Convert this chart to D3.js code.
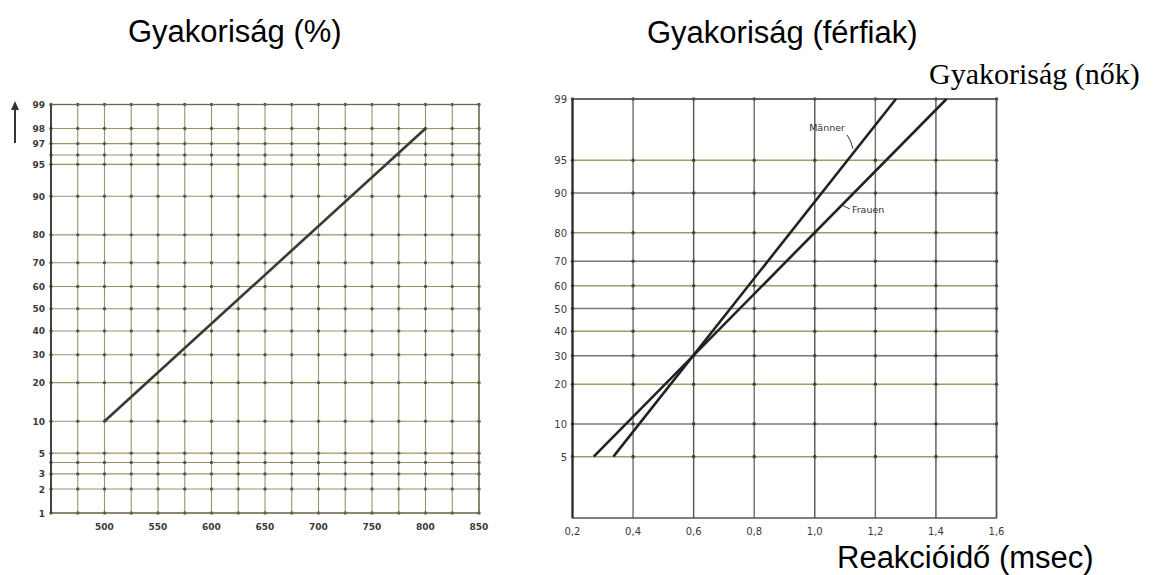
<!DOCTYPE html>
<html>
<head>
<meta charset="utf-8">
<script src="https://cdn.jsdelivr.net/npm/d3@7/dist/d3.min.js"></script>
<style>
  body { margin: 0; background: #fff; }
  .tick-label { font-family: "DejaVu Sans", sans-serif; font-weight: bold; fill: #3a3a3a; }
</style>
</head>
<body>
<div id="chart"></div>
<script>
// left chart data
var leftGridX = [450, 475, 500, 525, 550, 575, 600, 625, 650, 675, 700, 725, 750, 775, 800, 825, 850];
var leftTicksX = [500, 550, 600, 650, 700, 750, 800, 850];
var leftGridP = [1, 2, 3, 4, 5, 10, 20, 30, 40, 50, 60, 70, 80, 90, 95, 96, 97, 98, 99];
var leftTicksP = [1, 2, 3, 5, 10, 20, 30, 40, 50, 60, 70, 80, 90, 95, 97, 98, 99];
var lineX = [500, 800];
var lineP = [10, 98];

// right chart data
var rightGridX = [0.2, 0.4, 0.6, 0.8, 1.0, 1.2, 1.4, 1.6];
var rightTickLabels = ["0,2", "0,4", "0,6", "0,8", "1,0", "1,2", "1,4", "1,6"];
var rightGridP = [5, 10, 20, 30, 40, 50, 60, 70, 80, 90, 95, 99];
var maennerX = [0.335, 1.268];
var maennerP = [5, 99];
var frauenX = [0.27, 1.435];
var frauenP = [5, 99];

// inverse normal cdf (Acklam)
function probit(p) {
  var a = [-3.969683028665376e+01, 2.209460984245205e+02, -2.759285104469687e+02, 1.383577518672690e+02, -3.066479806614716e+01, 2.506628277459239e+00];
  var b = [-5.447609879822406e+01, 1.615858368580409e+02, -1.556989798598866e+02, 6.680131188771972e+01, -1.328068155288572e+01];
  var c = [-7.784894002430293e-03, -3.223964580411365e-01, -2.400758277161838e+00, -2.549732539343734e+00, 4.374664141464968e+00, 2.938163982698783e+00];
  var d = [7.784695709041462e-03, 3.224671290700398e-01, 2.445134137142996e+00, 3.754408661907416e+00];
  var q, r;
  if (p < 0.02425) {
    q = Math.sqrt(-2 * Math.log(p));
    return (((((c[0]*q+c[1])*q+c[2])*q+c[3])*q+c[4])*q+c[5]) / ((((d[0]*q+d[1])*q+d[2])*q+d[3])*q+1);
  }
  if (p > 1 - 0.02425) {
    q = Math.sqrt(-2 * Math.log(1 - p));
    return -(((((c[0]*q+c[1])*q+c[2])*q+c[3])*q+c[4])*q+c[5]) / ((((d[0]*q+d[1])*q+d[2])*q+d[3])*q+1);
  }
  q = p - 0.5;
  r = q * q;
  return (((((a[0]*r+a[1])*r+a[2])*r+a[3])*r+a[4])*r+a[5])*q / (((((b[0]*r+b[1])*r+b[2])*r+b[3])*r+b[4])*r+1);
}

// x value on a straight probit line at percentage p
function xAt(xs, ps, p) {
  var t = (probit(p / 100) - probit(ps[0] / 100)) / (probit(ps[1] / 100) - probit(ps[0] / 100));
  return xs[0] + t * (xs[1] - xs[0]);
}

function init() {
  var w = 1158;
  var h = 575;

  var svg = d3.select("#chart")
    .append("svg")
    .attr("width", w)
    .attr("height", h);

  // titles
  svg.append("text")
    .attr("x", 128).attr("y", 42)
    .style("font-family", "'Liberation Sans', Arial, sans-serif")
    .style("font-size", "31px")
    .text("Gyakoriság (%)");

  svg.append("text")
    .attr("x", 647).attr("y", 43)
    .style("font-family", "'Liberation Sans', Arial, sans-serif")
    .style("font-size", "31px")
    .text("Gyakoriság (férfiak)");

  svg.append("text")
    .attr("x", 929).attr("y", 84)
    .style("font-family", "'Liberation Serif', 'Times New Roman', serif")
    .style("font-size", "30px")
    .text("Gyakoriság (nők)");

  svg.append("text")
    .attr("x", 837).attr("y", 568)
    .style("font-family", "'Liberation Sans', Arial, sans-serif")
    .style("font-size", "31px")
    .text("Reakcióidő (msec)");

  // ---------- left chart ----------
  var xL = d3.scaleLinear().domain([450, 850]).range([51, 479]);
  var zL = d3.scaleLinear().domain([probit(0.01), probit(0.99)]).range([513, 104.5]);
  var yL = function(p) { return zL(probit(p / 100)); };

  var left = svg.append("g");

  left.selectAll(".vgrid")
    .data(leftGridX)
    .enter()
    .append("line")
    .attr("x1", function(d) { return xL(d); })
    .attr("x2", function(d) { return xL(d); })
    .attr("y1", yL(99))
    .attr("y2", yL(1))
    .attr("stroke", "#9a9568")
    .attr("stroke-width", 1.1);

  left.selectAll(".hgrid")
    .data(leftGridP)
    .enter()
    .append("line")
    .attr("x1", xL(450))
    .attr("x2", xL(850))
    .attr("y1", function(d) { return yL(d); })
    .attr("y2", function(d) { return yL(d); })
    .attr("stroke", "#9a9568")
    .attr("stroke-width", 1.1);

  // intersection dots
  leftGridP.forEach(function(p) {
    left.selectAll(null)
      .data(leftGridX)
      .enter()
      .append("circle")
      .attr("cx", function(d) { return xL(d); })
      .attr("cy", yL(p))
      .attr("r", 1.7)
      .attr("fill", "#555");
  });

  // frame
  left.append("rect")
    .attr("x", xL(450))
    .attr("y", yL(99))
    .attr("width", xL(850) - xL(450))
    .attr("height", yL(1) - yL(99))
    .attr("fill", "none")
    .attr("stroke", "#6a6650")
    .attr("stroke-width", 1.3);
  left.append("line")
    .attr("x1", xL(450)).attr("x2", xL(450))
    .attr("y1", yL(99)).attr("y2", yL(1))
    .attr("stroke", "#333")
    .attr("stroke-width", 1.6);

  left.selectAll(".ylab")
    .data(leftTicksP)
    .enter()
    .append("text")
    .attr("class", "tick-label")
    .attr("x", 45)
    .attr("y", function(d) { return yL(d) + 3.5; })
    .attr("text-anchor", "end")
    .style("font-size", "9px")
    .text(function(d) { return d; });

  left.selectAll(".xlab")
    .data(leftTicksX)
    .enter()
    .append("text")
    .attr("class", "tick-label")
    .attr("x", function(d) { return xL(d); })
    .attr("y", 530)
    .attr("text-anchor", "middle")
    .style("font-size", "9px")
    .text(function(d) { return d; });

  // arrow
  left.append("line")
    .attr("x1", 15).attr("x2", 15)
    .attr("y1", 143).attr("y2", 108)
    .attr("stroke", "#333")
    .attr("stroke-width", 2);
  left.append("path")
    .attr("d", "M15,101 L11,110 L19,110 Z")
    .attr("fill", "#333");

  var leftLine = d3.line()
    .x(function(d) { return xL(d[0]); })
    .y(function(d) { return yL(d[1]); });

  left.append("path")
    .datum(d3.zip(lineX, lineP))
    .attr("d", leftLine)
    .attr("fill", "none")
    .attr("stroke", "#3a3a30")
    .attr("stroke-width", 2.6);

  // ---------- right chart ----------
  var xR = d3.scaleLinear().domain([0.2, 1.6]).range([572.5, 996.5]);
  var zR = d3.scaleLinear().domain([probit(0.01), probit(0.99)]).range([518, 99]);
  var yR = function(p) { return zR(probit(p / 100)); };

  var right = svg.append("g");

  right.selectAll(".hgrid")
    .data(rightGridP)
    .enter()
    .append("line")
    .attr("x1", xR(0.2))
    .attr("x2", xR(1.6))
    .attr("y1", function(d) { return yR(d); })
    .attr("y2", function(d) { return yR(d); })
    .attr("stroke", function(d, i) { return i % 2 ? "#7a7a72" : "#a69a6a"; })
    .attr("stroke-width", 1.5);

  right.selectAll(".vgrid")
    .data(rightGridX)
    .enter()
    .append("line")
    .attr("x1", function(d) { return xR(d); })
    .attr("x2", function(d) { return xR(d); })
    .attr("y1", yR(99))
    .attr("y2", yR(1))
    .attr("stroke", function(d, i) { return i % 2 ? "#6f6f66" : "#55554f"; })
    .attr("stroke-width", 1.4);

  rightGridP.forEach(function(p) {
    right.selectAll(null)
      .data(rightGridX)
      .enter()
      .append("circle")
      .attr("cx", function(d) { return xR(d); })
      .attr("cy", yR(p))
      .attr("r", 1.8)
      .attr("fill", "#444");
  });

  right.append("rect")
    .attr("x", xR(0.2))
    .attr("y", yR(99))
    .attr("width", xR(1.6) - xR(0.2))
    .attr("height", yR(1) - yR(99))
    .attr("fill", "none")
    .attr("stroke", "#55554f")
    .attr("stroke-width", 1.5);
  right.append("line")
    .attr("x1", xR(0.2)).attr("x2", xR(0.2))
    .attr("y1", yR(99)).attr("y2", yR(1))
    .attr("stroke", "#2a2a2a")
    .attr("stroke-width", 2);

  right.selectAll(".ylab")
    .data(rightGridP)
    .enter()
    .append("text")
    .attr("class", "tick-label")
    .attr("x", 567)
    .attr("y", function(d) { return yR(d) + 4; })
    .attr("text-anchor", "end")
    .style("font-size", "10px")
    .style("font-weight", "normal")
    .text(function(d) { return d; });

  right.selectAll(".xlab")
    .data(rightGridX)
    .enter()
    .append("text")
    .attr("class", "tick-label")
    .attr("x", function(d) { return xR(d); })
    .attr("y", 535)
    .attr("text-anchor", "middle")
    .style("font-size", "10px")
    .style("font-weight", "normal")
    .text(function(d, i) { return rightTickLabels[i]; });

  var rightLine = d3.line()
    .x(function(d) { return xR(d[0]); })
    .y(function(d) { return yR(d[1]); });

  right.append("path")
    .datum(d3.zip(maennerX, maennerP))
    .attr("d", rightLine)
    .attr("fill", "none")
    .attr("stroke", "#222")
    .attr("stroke-width", 2.6);

  right.append("path")
    .datum(d3.zip(frauenX, frauenP))
    .attr("d", rightLine)
    .attr("fill", "none")
    .attr("stroke", "#222")
    .attr("stroke-width", 2.6);

  // line labels with leaders
  var mLineX = xR(xAt(maennerX, maennerP, 96));
  var mLineY = yR(96);
  right.append("path")
    .attr("d", "M" + (mLineX - 2) + "," + (mLineY - 2) + " Q" + (mLineX - 4) + "," + (mLineY - 11) + " " + (mLineX - 8) + "," + (mLineY - 16))
    .attr("fill", "none")
    .attr("stroke", "#333")
    .attr("stroke-width", 1);
  right.append("text")
    .attr("x", mLineX - 10)
    .attr("y", mLineY - 20)
    .attr("text-anchor", "end")
    .style("font-family", "'DejaVu Sans', sans-serif")
    .style("font-size", "9.5px")
    .attr("fill", "#333")
    .text("Männer");

  var fLineX = xR(xAt(frauenX, frauenP, 87));
  var fLineY = yR(87);
  right.append("path")
    .attr("d", "M" + (fLineX + 2) + "," + (fLineY - 2) + " L" + (fLineX + 10) + "," + (fLineY + 2))
    .attr("fill", "none")
    .attr("stroke", "#333")
    .attr("stroke-width", 1);
  right.append("text")
    .attr("x", fLineX + 12)
    .attr("y", fLineY + 6)
    .style("font-family", "'DejaVu Sans', sans-serif")
    .style("font-size", "9.5px")
    .attr("fill", "#333")
    .text("Frauen");
}

window.onload = init;
</script>
</body>
</html>
